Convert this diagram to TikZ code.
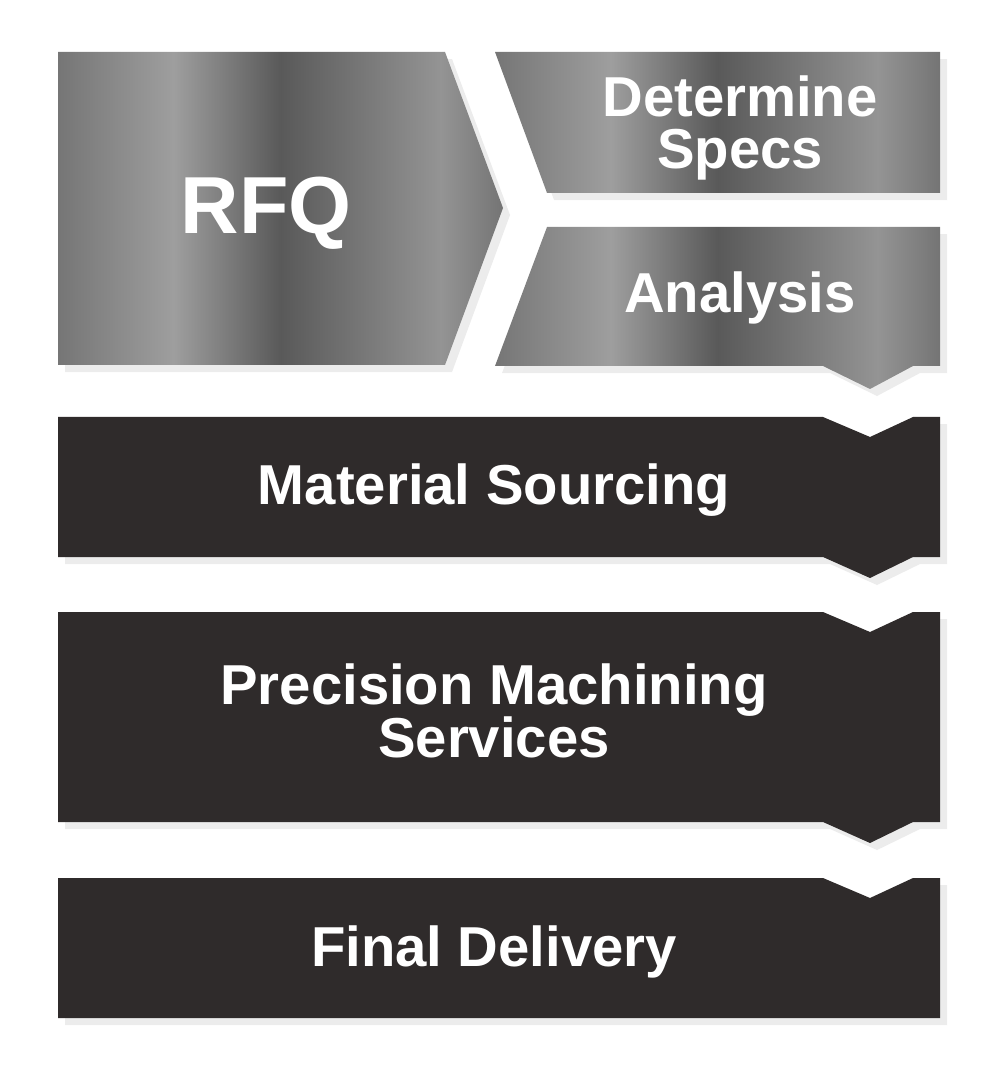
\documentclass[tikz,border=0pt]{standalone}
\usepackage{fontspec}
\setmainfont{Liberation Sans}
\usetikzlibrary{shadows}
\definecolor{darkbox}{HTML}{2F2B2B}
\pgfdeclarehorizontalshading{metal}{100bp}{color(0bp)=(black!75);color(20bp)=(black!60);color(38bp)=(black!38);color(50bp)=(black!65);color(68bp)=(black!42);color(85bp)=(black!72);color(100bp)=(black!78)}
\tikzset{
	metalbox/.style={shading=metal,drop shadow={opacity=0.15,shadow xshift=2pt,shadow yshift=-2pt}},
	darkstep/.style={fill=darkbox,drop shadow={opacity=0.15,shadow xshift=2pt,shadow yshift=-2pt}},
	label/.style={text=white,font=\bfseries\fontsize{16}{17}\selectfont,align=center}
}
\begin{document}
\begin{tikzpicture}[x=0.01cm,y=-0.01cm]
	\useasboundingbox (0,0) rectangle (1000,1080);
	
	%RFQ
	\path[metalbox] (58,52) -- (445,52) -- (503,208) -- (445,365) -- (58,365) -- cycle;
	\node[label,font=\bfseries\fontsize{23}{25}\selectfont] (rfq) at (266,213) {RFQ};
	
	%Specs und Analysis
	\path[metalbox] (495,52) -- (940,52) -- (940,193) -- (547,193) -- cycle;
	\node[label] (specs) at (740,128) {Determine\\[-2pt]Specs};
	\path[metalbox] (547,227) -- (940,227) -- (940,366) -- (913,366) -- (870,389) -- (823,366) -- (495,366) -- cycle;
	\node[label] (analysis) at (740,298) {Analysis};
	
	%Schritte
	\path[darkstep] (58,417) -- (823,417) -- (870,437) -- (913,417) -- (940,417) -- (940,557) -- (913,557) -- (870,578) -- (823,557) -- (58,557) -- cycle;
	\node[label] (sourcing) at (494,490) {Material Sourcing};
	
	\path[darkstep] (58,612) -- (823,612) -- (870,632) -- (913,612) -- (940,612) -- (940,822) -- (913,822) -- (870,843) -- (823,822) -- (58,822) -- cycle;
	\node[label] (machining) at (494,711) {Precision Machining\\[-2pt]Services};
	
	\path[darkstep] (58,878) -- (823,878) -- (870,898) -- (913,878) -- (940,878) -- (940,1018) -- (58,1018) -- cycle;
	\node[label] (delivery) at (494,952) {Final Delivery};
	
\end{tikzpicture}
\end{document}
